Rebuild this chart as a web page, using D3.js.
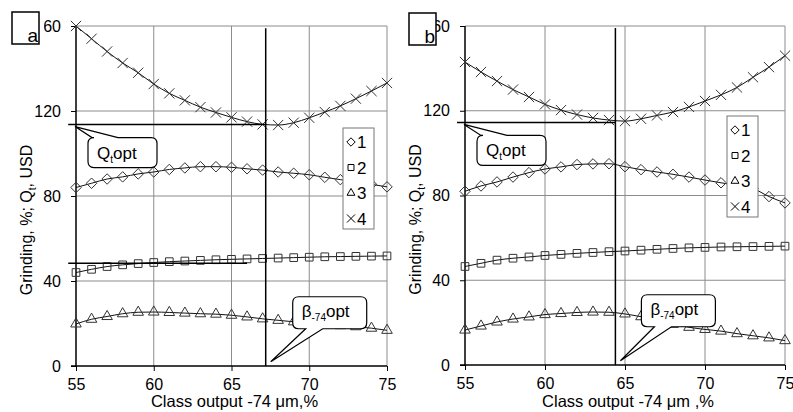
<!DOCTYPE html>
<html>
<head>
<meta charset="utf-8">
<script src="https://cdn.jsdelivr.net/npm/d3@7"></script>
<style>
  body { margin: 0; background: #fff; }
  svg { display: block; font-family: "Liberation Sans", Arial, sans-serif; }
</style>
</head>
<body>
<div id="chart"></div>
<script>
// class output -74 um, %
const classOutput = [55, 56, 57, 58, 59, 60, 61, 62, 63, 64, 65, 66, 67, 68, 69, 70, 71, 72, 73, 74, 75];
const yTicks = [0, 40, 80, 120, 160];
const xTicks = [55, 60, 65, 70, 75];
const legendNames = ["1", "2", "3", "4"];

// panel a
const aSeries1 = [84, 86, 88, 89, 90.4, 91.3, 92.5, 93.2, 93.8, 93.8, 93.5, 92.8, 92.2, 91.3, 90.7, 90, 88.8, 87.7, 86.6, 85.5, 84.3];
const aSeries2 = [44, 45.5, 46.8, 47.6, 48.2, 48.7, 49.1, 49.4, 49.7, 50, 50.2, 50.4, 50.6, 50.8, 51, 51.2, 51.4, 51.5, 51.6, 51.7, 51.8];
const aSeries3 = [19.8, 22, 23.3, 24.6, 25.3, 25.4, 25.2, 24.9, 24.6, 24.4, 23.9, 23.1, 22.2, 21.5, 20.8, 20.1, 19.5, 19, 18.5, 17.8, 16.8];
const aSeries4 = [160, 154, 148, 142.6, 138, 132.7, 128.3, 125, 121.8, 119.3, 117, 115, 113.7, 113.4, 114.5, 116.8, 119.5, 122.4, 125.8, 129.4, 133.2];
const aOptClass = 67.2, aOptCost = 113.6, aOptGrind = 48.4;

// panel b
const bSeries1 = [82, 84.5, 86.4, 88.7, 90.8, 92.5, 93.5, 94.6, 94.9, 95, 93.6, 92.2, 91.1, 90, 88.7, 87.3, 86, 84.8, 83.3, 79.5, 76.5];
const bSeries2 = [46.5, 48, 49.5, 50.4, 51, 51.7, 52.2, 52.7, 53.1, 53.5, 53.8, 54.2, 54.6, 55, 55.3, 55.5, 55.7, 55.8, 55.9, 56, 56.1];
const bSeries3 = [16.5, 18.4, 20.3, 21.7, 22.7, 23.8, 24.3, 24.8, 25, 24.9, 24.1, 22.8, 21.4, 19.2, 17.8, 16.8, 16, 14.8, 13.8, 12.8, 11.5];
const bSeries4 = [143, 138.3, 134, 130, 126.5, 123, 120.3, 118.2, 116.6, 115.6, 115.1, 116.2, 117.8, 119.4, 121.8, 124.6, 127.5, 131, 135.8, 140.6, 146];
const bOptClass = 64.4, bOptCost = 114.5;

const W = 793, H = 412;
const svg = d3.select("#chart").append("svg")
  .attr("width", W).attr("height", H)
  .attr("viewBox", `0 0 ${W} ${H}`);

const panels = [
  { id: "a", xr: [76, 387], yr: [366, 26], box: [12, 12], cover: 5,
    series: [aSeries1, aSeries2, aSeries3, aSeries4],
    optClass: aOptClass, optCost: aOptCost, optGrind: aOptGrind,
    legend: [343, 128], qBox: [13, 11], bBox: [22, -65], xTitle: "Class output -74 \u03bcm,%" },
  { id: "b", xr: [465, 785], yr: [365, 26], box: [409, 13], cover: 0,
    series: [bSeries1, bSeries2, bSeries3, bSeries4],
    optClass: bOptClass, optCost: bOptCost, optGrind: null,
    legend: [727, 116], qBox: [13, 11], bBox: [21, -66], xTitle: "Class output -74 \u03bcm ,%" }
];

const symbols = [d3.symbolDiamond2, d3.symbolSquare2, d3.symbolTriangle2, d3.symbolX];
const symSize = [70, 75, 80, 70];

function callout(g, ax, ay, bx, by, bw, bh, wedgeOnTop, w0, w1) {
  // rounded box with a wedge pointing to (ax, ay)
  const r = 6;
  const p = d3.path();
  const x0 = bx, y0 = by, x1 = bx + bw, y1 = by + bh;
  p.moveTo(x0 + r, y0);
  if (wedgeOnTop) { p.lineTo(x0 + w0, y0); p.lineTo(ax, ay); p.lineTo(x0 + w1, y0); }
  p.lineTo(x1 - r, y0);
  p.quadraticCurveTo(x1, y0, x1, y0 + r);
  p.lineTo(x1, y1 - r);
  p.quadraticCurveTo(x1, y1, x1 - r, y1);
  if (!wedgeOnTop) { p.lineTo(x0 + w1, y1); p.lineTo(ax, ay); p.lineTo(x0 + w0, y1); }
  p.lineTo(x0 + r, y1);
  p.quadraticCurveTo(x0, y1, x0, y1 - r);
  p.lineTo(x0, y0 + r);
  p.quadraticCurveTo(x0, y0, x0 + r, y0);
  p.closePath();
  g.append("path").attr("d", p.toString())
    .attr("fill", "#fff").attr("stroke", "#000").attr("stroke-width", 1.2);
}

panels.forEach(pn => {
  const x = d3.scaleLinear().domain([55, 75]).range(pn.xr);
  const y = d3.scaleLinear().domain([0, 160]).range(pn.yr);
  const g = svg.append("g");

  // grid
  g.selectAll(".gy").data(yTicks.filter(d => d > 0)).enter().append("line")
    .attr("x1", x(55)).attr("x2", x(75)).attr("y1", d => y(d)).attr("y2", d => y(d))
    .attr("stroke", "#8c8c8c").attr("stroke-width", 1);
  g.selectAll(".gx").data(xTicks.filter(d => d > 55)).enter().append("line")
    .attr("x1", d => x(d)).attr("x2", d => x(d)).attr("y1", y(0)).attr("y2", y(160))
    .attr("stroke", "#8c8c8c").attr("stroke-width", 1);

  // axes
  const yAxis = g.append("g").attr("transform", `translate(${x(55)},0)`)
    .call(d3.axisLeft(y).tickValues(yTicks).tickSize(5).tickPadding(10));
  const xAxis = g.append("g").attr("transform", `translate(0,${y(0)})`)
    .call(d3.axisBottom(x).tickValues(xTicks).tickSize(5).tickPadding(8));
  [yAxis, xAxis].forEach(ax => {
    ax.select(".domain").attr("stroke", "#000").attr("stroke-width", 1.5);
    ax.selectAll(".tick line").attr("stroke", "#000");
    ax.selectAll("text").attr("fill", "#000").style("font-size", "16px")
      .style("font-family", "'Liberation Sans', Arial, sans-serif");
  });
  yAxis.select(".domain").attr("d", `M-5,${y(0)}H0V${y(160)}`);
  xAxis.select(".domain").attr("d", `M${x(55)},0H${x(75)}`);

  // series lines and markers
  const line = d3.line().x((d, i) => x(classOutput[i])).y(d => y(d)).curve(d3.curveMonotoneX);
  pn.series.forEach((s, k) => {
    g.append("path").attr("d", line(s)).attr("fill", "none")
      .attr("stroke", "#111").attr("stroke-width", 1);
    g.selectAll(".m" + k).data(s).enter().append("path")
      .attr("transform", (d, i) => `translate(${x(classOutput[i])},${y(d)})`)
      .attr("d", d3.symbol(symbols[k], symSize[k]))
      .attr("fill", "none").attr("stroke", "#333").attr("stroke-width", 1);
  });

  // optimum lines
  g.append("line").attr("x1", x(pn.optClass)).attr("x2", x(pn.optClass))
    .attr("y1", y(159)).attr("y2", y(0)).attr("stroke", "#000").attr("stroke-width", 1.5);
  g.append("line").attr("x1", x(54.5)).attr("x2", x(pn.optClass))
    .attr("y1", y(pn.optCost)).attr("y2", y(pn.optCost)).attr("stroke", "#000").attr("stroke-width", 1.5);
  if (pn.optGrind !== null) {
    g.append("line").attr("x1", x(54.5)).attr("x2", x(66))
      .attr("y1", y(pn.optGrind)).attr("y2", y(pn.optGrind)).attr("stroke", "#000").attr("stroke-width", 1.5);
  }

  // Q_t opt callout
  const qax = x(55) - 1, qay = y(pn.optCost) + 2;
  const qbx = qax + pn.qBox[0], qby = qay + pn.qBox[1];
  callout(g, qax, qay, qbx, qby, 69, 30, true, 4, 30);
  const qt = g.append("text").attr("x", qbx + 9).attr("y", qby + 21)
    .style("font-size", "17px").attr("fill", "#000");
  qt.append("tspan").text("Q");
  qt.append("tspan").text("t").style("font-size", "10px").attr("dy", 4);
  qt.append("tspan").text("opt").attr("dy", -4);

  // beta opt callout
  const bax = x(pn.optClass) + 5, bay = y(2);
  const bbx = bax + pn.bBox[0], bby = bay + pn.bBox[1];
  callout(g, bax, bay, bbx, bby, 74, 32, false, 13, 30);
  const bt = g.append("text").attr("x", bbx + 9).attr("y", bby + 20)
    .style("font-size", "17px").attr("fill", "#000");
  bt.append("tspan").text("\u03b2");
  bt.append("tspan").text("-74").style("font-size", "10px").attr("dy", 4);
  bt.append("tspan").text("opt").attr("dy", -4);

  // legend
  const lg = g.append("g").attr("transform", `translate(${pn.legend[0]},${pn.legend[1]})`);
  lg.append("rect").attr("width", 31).attr("height", 101)
    .attr("fill", "#fff").attr("stroke", "#777").attr("stroke-width", 1);
  legendNames.forEach((name, k) => {
    const ly = 14 + k * 25.5;
    lg.append("path").attr("transform", `translate(8,${ly})`)
      .attr("d", d3.symbol(symbols[k], 45))
      .attr("fill", "none").attr("stroke", "#000").attr("stroke-width", 1);
    lg.append("text").attr("x", 14).attr("y", ly + 6).text(name)
      .style("font-size", "17px").attr("fill", "#000");
  });

  // axis titles
  g.append("text").attr("x", (pn.xr[0] + pn.xr[1]) / 2 + 3).attr("y", 407)
    .attr("text-anchor", "middle").style("font-size", "16.5px").attr("fill", "#000")
    .text(pn.xTitle);
  const yt = g.append("text")
    .attr("transform", `translate(${pn.xr[0] - 44},${(pn.yr[0] + pn.yr[1]) / 2 + 24}) rotate(-90)`)
    .attr("text-anchor", "middle").style("font-size", "16px").attr("fill", "#000");
  yt.append("tspan").text("Grinding, %; Q");
  yt.append("tspan").text("t").style("font-size", "10px").attr("dy", 4);
  yt.append("tspan").text(", USD").attr("dy", -4);

  // panel label box (sits over the leading digit of the top tick, as in the original)
  svg.append("rect").attr("x", pn.box[0]).attr("y", pn.box[1])
    .attr("width", 27 + pn.cover).attr("height", 32).attr("fill", "#fff");
  svg.append("rect").attr("x", pn.box[0]).attr("y", pn.box[1]).attr("width", 27).attr("height", 32)
    .attr("fill", "#fff").attr("stroke", "#000").attr("stroke-width", 1.5);
  svg.append("text").attr("x", pn.box[0] + 26).attr("y", pn.box[1] + 30)
    .attr("text-anchor", "end").style("font-size", "19px").attr("fill", "#000").text(pn.id);
});
</script>
</body>
</html>
